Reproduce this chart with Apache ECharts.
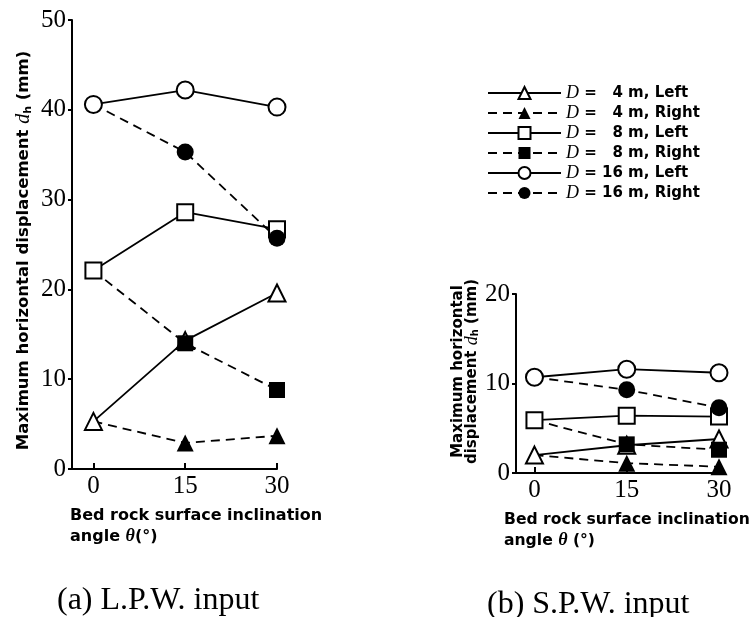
<!DOCTYPE html>
<html>
<head>
<meta charset="utf-8">
<script src="https://cdn.jsdelivr.net/npm/echarts@6/dist/echarts.min.js"></script>
<style>
  html, body { margin: 0; padding: 0; background: #fff; }
  #chart { width: 755px; height: 617px; }
</style>
</head>
<body>
<div id="chart"></div>
<script>
// inclination angles (deg) and tick labels
const angles = [0, 15, 30];
const xTicks = [0, 15, 30];

// series names, in legend order
const seriesNames = ['4 m, Left', '4 m, Right', '8 m, Left', '8 m, Right', '16 m, Left', '16 m, Right'];

// (a) L.P.W. input, max horizontal displacement (mm)
const lpw4Left = [5.3, 14.3, 19.6];
const lpw4Right = [5.3, 2.9, 3.7];
const lpw8Left = [22.1, 28.6, 26.7];
const lpw8Right = [22.1, 14.0, 8.8];
const lpw16Left = [40.6, 42.2, 40.3];
const lpw16Right = [40.6, 35.3, 25.7];

// (b) S.P.W. input
const spw4Left = [2.0, 3.1, 3.8];
const spw4Right = [2.0, 1.1, 0.7];
const spw8Left = [5.9, 6.4, 6.3];
const spw8Right = [5.9, 3.2, 2.6];
const spw16Left = [10.7, 11.6, 11.2];
const spw16Right = [10.7, 9.3, 7.3];

const lpwData = [lpw4Left, lpw4Right, lpw8Left, lpw8Right, lpw16Left, lpw16Right];
const spwData = [spw4Left, spw4Right, spw8Left, spw8Right, spw16Left, spw16Right];

const symbols = ['triangle', 'triangle', 'rect', 'rect', 'circle', 'circle'];
const symbolSizes = [17, 17, 16, 16, 17, 17];
// drawing order: open marks over the filled ones of the same D
const drawOrder = [1, 0, 3, 2, 5, 4];

const labelFont = "'Liberation Serif', serif";
const textFont = "'DejaVu Sans', sans-serif";
const italicFont = "'Liberation Serif', serif";

const chart = echarts.init(document.getElementById('chart'));

const makeSeries = (values, idx) => {
  return drawOrder.map((i) => {
    const isRight = i % 2 === 1;
    return {
      name: seriesNames[i],
      type: 'line',
      xAxisIndex: idx,
      yAxisIndex: idx,
      data: values[i].map((v, k) => [angles[k], v]),
      symbol: symbols[i],
      symbolSize: symbolSizes[i],
      showAllSymbol: true,
      lineStyle: {
        color: '#000',
        width: 1.8,
        type: isRight ? [9, 6] : 'solid'
      },
      itemStyle: {
        color: isRight ? '#000' : '#fff',
        borderColor: '#000',
        borderWidth: isRight ? 0 : 2
      },
      emphasis: { disabled: true },
      animation: false
    };
  });
};

const xAxisCommon = {
  type: 'value',
  max: 30,
  axisLine: { onZero: false, lineStyle: { color: '#000', width: 2 } },
  axisTick: { inside: true, length: 6, lineStyle: { color: '#000', width: 2 }, customValues: xTicks },
  axisLabel: { color: '#000', fontSize: 25, fontFamily: labelFont, margin: 5, customValues: xTicks },
  splitLine: { show: false }
};

const yAxisCommon = {
  type: 'value',
  min: 0,
  axisLine: { show: true, onZero: false, lineStyle: { color: '#000', width: 2 } },
  axisTick: { show: true, length: 4, lineStyle: { color: '#000', width: 2 } },
  axisLabel: { color: '#000', fontSize: 25, fontFamily: labelFont, margin: 6 },
  splitLine: { show: false },
  nameLocation: 'middle',
  nameRotate: 90
};

const titleRich = {
  t: { fontSize: 18, fontStyle: 'italic', fontFamily: italicFont, color: '#000', lineHeight: 21 }
};

const option = {
  backgroundColor: '#fff',
  animation: false,
  title: [
    {
      text: 'Bed rock surface inclination\nangle {t|θ}(°)',
      left: 70, top: 505, padding: 0,
      textStyle: { fontSize: 16, fontWeight: 'bold', fontFamily: textFont, color: '#000', lineHeight: 21, rich: titleRich }
    },
    {
      text: 'Bed rock surface inclination\nangle {t|θ} (°)',
      left: 504, top: 509, padding: 0,
      textStyle: { fontSize: 15.6, fontWeight: 'bold', fontFamily: textFont, color: '#000', lineHeight: 21, rich: titleRich }
    },
    {
      text: '(a) L.P.W. input',
      left: 57, top: 585, padding: 0,
      textStyle: { fontSize: 32, fontWeight: 'normal', fontFamily: "'Liberation Serif', 'Times New Roman', serif", color: '#000' }
    },
    {
      text: '(b) S.P.W. input',
      left: 487, top: 589, padding: 0,
      textStyle: { fontSize: 32, fontWeight: 'normal', fontFamily: "'Liberation Serif', 'Times New Roman', serif", color: '#000' }
    }
  ],
  legend: {
    data: seriesNames,
    orient: 'vertical',
    left: 487,
    top: 84,
    padding: 0,
    itemWidth: 73,
    itemHeight: 15,
    itemGap: 2,
    selectedMode: false,
    formatter: (name) => {
      const parts = name.split(' m, ');
      const num = parts[0].length < 2 ? '  ' + parts[0] : parts[0];
      return '{d|D}{e| = }{n|' + num + '}{u| m, ' + parts[1] + '}';
    },
    textStyle: {
      color: '#000',
      rich: {
        d: { fontSize: 18, fontStyle: 'italic', fontFamily: italicFont, color: '#000', lineHeight: 17 },
        e: { fontSize: 15, fontWeight: 'bold', fontFamily: textFont, color: '#000', lineHeight: 17 },
        n: { fontSize: 15, fontWeight: 'bold', fontFamily: textFont, color: '#000', lineHeight: 17 },
        u: { fontSize: 15, fontWeight: 'bold', fontFamily: textFont, color: '#000', lineHeight: 17 }
      }
    }
  },
  grid: [
    { left: 72, top: 20, width: 205, height: 449 },
    { left: 516, top: 294, width: 203, height: 179 }
  ],
  xAxis: [
    Object.assign({}, xAxisCommon, { gridIndex: 0, min: -3.5 }),
    Object.assign({}, xAxisCommon, { gridIndex: 1, min: -3 })
  ],
  yAxis: [
    Object.assign({}, yAxisCommon, {
      gridIndex: 0, max: 50, interval: 10,
      name: '{a|Maximum horizontal displacement }{i|d}{s|h}{a| (mm)}',
      nameGap: 38,
      nameTextStyle: {
        padding: [0, 12, 0, 0],
        rich: {
          a: { fontSize: 16.5, fontWeight: 'bold', fontFamily: textFont, color: '#000' },
          i: { fontSize: 20, fontStyle: 'italic', fontFamily: italicFont, color: '#000' },
          s: { fontSize: 11, fontWeight: 'bold', fontFamily: textFont, color: '#000', padding: [9, 0, 0, 0] }
        }
      }
    }),
    Object.assign({}, yAxisCommon, {
      gridIndex: 1, max: 20, interval: 10,
      name: '{a|Maximum horizontal}\n{a|displacement }{i|d}{s|h}{a| (mm)}',
      nameGap: 36,
      nameTextStyle: {
        lineHeight: 14,
        padding: [0, 0, 0, 24],
        rich: {
          a: { fontSize: 15, fontWeight: 'bold', fontFamily: textFont, color: '#000', lineHeight: 14 },
          i: { fontSize: 18, fontStyle: 'italic', fontFamily: italicFont, color: '#000', lineHeight: 14 },
          s: { fontSize: 10, fontWeight: 'bold', fontFamily: textFont, color: '#000', lineHeight: 14, padding: [7, 0, 0, 0] }
        }
      }
    })
  ],
  series: makeSeries(lpwData, 0).concat(makeSeries(spwData, 1))
};

chart.setOption(option);
</script>
</body>
</html>
